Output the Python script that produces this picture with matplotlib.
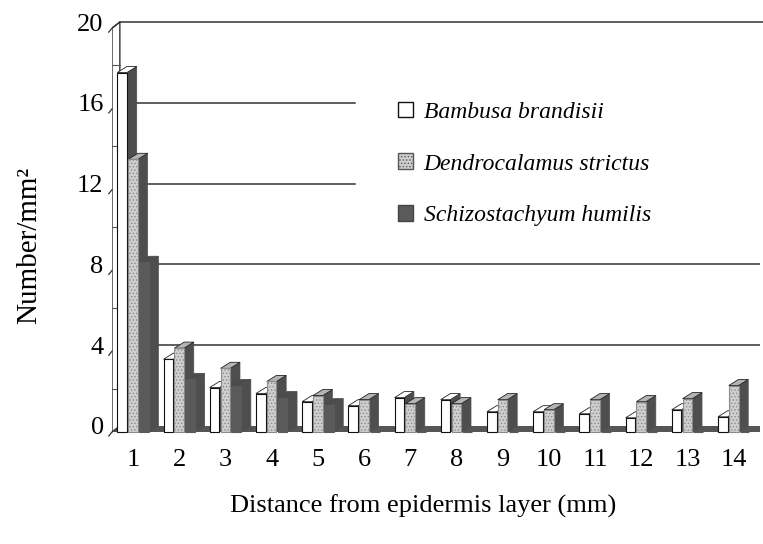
import matplotlib
matplotlib.use("Agg")
import matplotlib.pyplot as plt
from matplotlib.patches import Polygon, Patch
import numpy as np

# ---- data ----
distance = [1, 2, 3, 4, 5, 6, 7, 8, 9, 10, 11, 12, 13, 14]
bambusa = [17.8, 3.6, 2.2, 1.9, 1.5, 1.3, 1.7, 1.6, 1.0, 1.0, 0.9, 0.7, 1.1, 0.75]
dendro = [13.5, 4.15, 3.15, 2.5, 1.8, 1.6, 1.4, 1.4, 1.6, 1.1, 1.6, 1.5, 1.65, 2.3]
schizo = [8.4, 2.6, 2.3, 1.7, 1.35, 0, 0, 0, 0, 0, 0, 0, 0, 0]
series_names = ["Bambusa brandisii", "Dendrocalamus strictus", "Schizostachyum humilis"]
yticks = [0, 4, 8, 12, 16, 20]

# ---- style ----
SERIF = "Liberation Serif"
plt.rcParams["font.family"] = [SERIF, "DejaVu Serif"]
plt.rcParams["hatch.linewidth"] = 0.6

W, H = 763, 544
fig = plt.figure(figsize=(W / 100, H / 100), dpi=100)
left_px, right_px, bot_px, top_px = 112, 760, 436, 16
ax = fig.add_axes([left_px / W, 1 - bot_px / H, (right_px - left_px) / W, (bot_px - top_px) / H])

xmin, xmax = 0.545, 14.57
ymin, ymax = -0.5, 20.3
ax.set_xlim(xmin, xmax)
ax.set_ylim(ymin, ymax)

dy = 0.3        # depth (vertical) in data units
bdx = 0.21      # bar depth (horizontal)
wdx = 0.17      # wall depth
w = 0.21        # bar width
offsets = [-0.235, 0.0, 0.235]

front_col = ["#ffffff", "#cfcfcf", "#5a5a5a"]
top_col = ["#ffffff", "#b4b4b4", "#4c4c4c"]
side_col = "#4e4e4e"
edge_col = ["#111111", "#8a8a8a", "#5a5a5a"]
hatches = [None, ".....", None]

x = np.array(distance, dtype=float)
wall_back = xmin + wdx

# floor
ax.add_patch(Polygon([(xmin, -dy), (xmax, -dy), (xmax, 0), (wall_back, 0)],
                     closed=True, facecolor="#555555", edgecolor="none", zorder=1))

# wall
ax.add_patch(Polygon([(xmin, -dy), (wall_back, 0), (wall_back, 20), (xmin, 20 - dy)],
                     closed=True, facecolor="white", edgecolor="#333333", lw=1.0, zorder=1.5))
for v in yticks:
    ax.plot([xmin - 0.07, xmin], [v - dy - 0.2, v - dy], color="#333333", lw=0.9, zorder=1.6,
            clip_on=False)
for v in [2, 6, 10, 14, 18]:
    ax.plot([xmin, wall_back], [v - 0.15, v - 0.15], color="#555555", lw=0.8, zorder=1.6)

# back-plane gridlines
for v in [4, 8]:
    ax.plot([wall_back, xmax], [v, v], color="#333333", lw=1.1, zorder=0.5)
for v in [12, 16]:
    ax.plot([wall_back, 5.8], [v, v], color="#333333", lw=1.1, zorder=0.5)
ax.plot([wall_back, xmax + 0.5], [20, 20], color="#333333", lw=1.1, zorder=0.5, clip_on=False)
ax.plot([xmin, wall_back], [20 - dy, 20], color="#333333", lw=1.0, zorder=1.6)

# bars
data = [bambusa, dendro, schizo]
for i in range(len(distance)):
    for s in range(3):
        v = data[s][i]
        if v <= 0:
            continue
        c = x[i] + offsets[s]
        x0, x1 = c - w / 2, c + w / 2
        side = Polygon([(x1, -dy), (x1 + bdx, 0), (x1 + bdx, v), (x1, v - dy)], closed=True,
                       facecolor=side_col, edgecolor=side_col, lw=0.5, zorder=2)
        top = Polygon([(x0, v - dy), (x1, v - dy), (x1 + bdx, v), (x0 + bdx, v)], closed=True,
                      facecolor=top_col[s], edgecolor="#222222" if s < 2 else top_col[s],
                      lw=0.6, zorder=2)
        ax.add_patch(side)
        ax.add_patch(top)

for s in range(3):
    ax.bar(x + offsets[s], np.array(data[s]), width=w, bottom=-dy, color=front_col[s],
           edgecolor=edge_col[s], linewidth=0.8, hatch=hatches[s], zorder=3)

# axes styling
for sp in ax.spines.values():
    sp.set_visible(False)
ax.set_xticks(x)
ax.set_xticklabels([str(d) for d in distance], fontsize=19)
ax.set_yticks(yticks)
ax.set_yticklabels([str(t) for t in yticks], fontsize=19)
ax.tick_params(axis="both", length=0)
ax.tick_params(axis="x", pad=9)
ax.tick_params(axis="y", pad=6)

ax.set_xlabel("Distance from epidermis layer (mm)", fontsize=19, va="center")
ax.xaxis.set_label_coords((423 - left_px) / (right_px - left_px), -(506 - bot_px) / (bot_px - top_px))
ax.set_ylabel("Number/mm²", fontsize=21, va="center")
ax.yaxis.set_label_coords(-(left_px - 29) / (right_px - left_px), (bot_px - 245) / (bot_px - top_px))

handles = [Patch(facecolor=front_col[0], edgecolor="#111111", lw=1.0),
           Patch(facecolor=front_col[1], edgecolor="#555555", hatch=".....", lw=1.0),
           Patch(facecolor=front_col[2], edgecolor="#444444", lw=1.0)]
leg = ax.legend(handles, series_names, loc="upper left",
                bbox_to_anchor=(381 / W, 1 - 85 / H), bbox_transform=fig.transFigure,
                prop={"family": SERIF, "style": "italic", "size": 17},
                frameon=False, handlelength=0.65, handleheight=0.65, handletextpad=0.45,
                labelspacing=1.3, borderpad=0.2)
leg.set_zorder(5)

fig.savefig("out.png", dpi=100)
